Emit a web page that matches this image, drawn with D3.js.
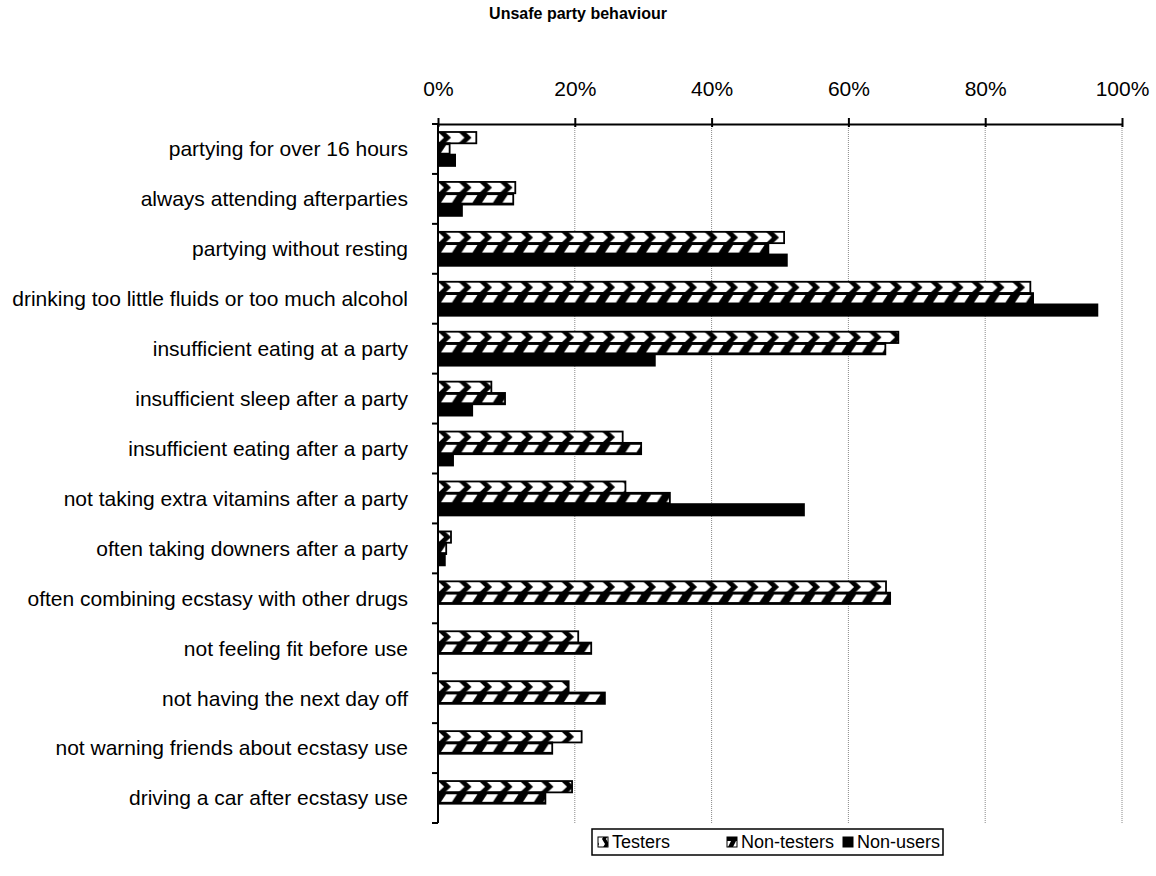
<!DOCTYPE html>
<html>
<head>
<meta charset="utf-8">
<script src="https://cdn.jsdelivr.net/npm/d3@7"></script>
<style>
  body { margin: 0; background: #fff; }
  svg { display: block; }
  text { font-family: "Liberation Sans", Arial, sans-serif; fill: #000; }
</style>
</head>
<body>
<svg id="chart"></svg>
<script>
// chart data (percent of respondents)
const categories = [
  "partying for over 16 hours",
  "always attending afterparties",
  "partying without resting",
  "drinking too little fluids or too much alcohol",
  "insufficient eating at a party",
  "insufficient sleep after a party",
  "insufficient eating after a party",
  "not taking extra vitamins after a party",
  "often taking downers after a party",
  "often combining ecstasy with other drugs",
  "not feeling fit before use",
  "not having the next day off",
  "not warning friends about ecstasy use",
  "driving a car after ecstasy use"
];
const seriesNames = ["Testers", "Non-testers", "Non-users"];
const testers    = [5.6, 11.3, 50.6, 86.6, 67.3, 7.8, 27.0, 27.4, 1.9, 65.5, 20.5, 19.1, 21.0, 19.6];
const nonTesters = [1.7, 11.0, 48.3, 87.0, 65.4, 9.8, 29.7, 33.9, 1.2, 66.1, 22.4, 24.4, 16.7, 15.7];
const nonUsers   = [2.5, 3.5, 51.0, 96.4, 31.7, 5.0, 2.2, 53.5, 1.0, null, null, null, null, null];
const xTicks = [0, 20, 40, 60, 80, 100];
const title = "Unsafe party behaviour";

const W = 1156, H = 876;
const margin = {top: 124, right: 34, bottom: 53, left: 438};

const svg = d3.select("#chart").attr("width", W).attr("height", H);

const x = d3.scaleLinear().domain([0, 100]).range([margin.left, W - margin.right]);
const y0 = d3.scaleBand().domain(categories)
  .range([margin.top, H - margin.bottom])
  .paddingInner(0.32).paddingOuter(0.16);
const y1 = d3.scaleBand().domain(seriesNames).range([0, y0.bandwidth()]);
const bh = y1.bandwidth();

// fill patterns, one tile per bar row
const defs = svg.append("defs");
const per = 20.5;
let p = defs.append("pattern").attr("id", "pat-testers")
  .attr("patternUnits", "userSpaceOnUse").attr("width", per).attr("height", bh);
p.append("rect").attr("width", per).attr("height", bh).attr("fill", "#fff");
p.append("polygon").attr("fill", "#000")
  .attr("points", [[0,0],[7,0],[13,bh/2],[7,bh],[0,bh],[6,bh/2]].join(" "));
p = defs.append("pattern").attr("id", "pat-nontesters")
  .attr("patternUnits", "userSpaceOnUse").attr("width", per).attr("height", bh);
p.append("rect").attr("width", per).attr("height", bh).attr("fill", "#000");
p.append("polygon").attr("fill", "#fff")
  .attr("points", [[3,bh-2],[8,2],[19,2],[14,bh-2]].join(" "));
// small legend tiles
p = defs.append("pattern").attr("id", "leg-testers")
  .attr("patternUnits", "userSpaceOnUse").attr("width", 10).attr("height", 10);
p.append("rect").attr("width", 10).attr("height", 10).attr("fill", "#fff");
p.append("polygon").attr("fill", "#000").attr("points", "0,0 4,0 7,5 4,10 0,10 3,5");
p = defs.append("pattern").attr("id", "leg-nontesters")
  .attr("patternUnits", "userSpaceOnUse").attr("width", 10).attr("height", 10);
p.append("rect").attr("width", 10).attr("height", 10).attr("fill", "#000");
p.append("polygon").attr("fill", "#fff").attr("points", "1,8 4,2 9,2 6,8");

const fills = {"Testers": "url(#pat-testers)", "Non-testers": "url(#pat-nontesters)", "Non-users": "#000"};
const legFills = {"Testers": "url(#leg-testers)", "Non-testers": "url(#leg-nontesters)", "Non-users": "#000"};

// gridlines
svg.append("g").selectAll("line")
  .data(xTicks.slice(1))
  .enter().append("line")
  .attr("x1", d => x(d)).attr("x2", d => x(d))
  .attr("y1", margin.top).attr("y2", H - margin.bottom)
  .attr("stroke", "#888").attr("stroke-width", 1)
  .attr("stroke-dasharray", "1,1");

// bars
const rows = [];
categories.forEach((c, i) => {
  [testers, nonTesters, nonUsers].forEach((arr, j) => {
    if (arr[i] != null) rows.push({cat: c, s: seriesNames[j], v: arr[i]});
  });
});
const bar = svg.append("g").selectAll("g")
  .data(rows)
  .enter().append("g")
  .attr("transform", d => "translate(" + x(0) + "," + (y0(d.cat) + y1(d.s)) + ")");
bar.append("rect")
  .attr("width", d => x(d.v) - x(0))
  .attr("height", bh)
  .attr("fill", d => fills[d.s])
  .attr("stroke", "#000").attr("stroke-width", 1.8);

// top axis
const xAxis = d3.axisTop(x).tickValues(xTicks).tickFormat(d => d + "%")
  .tickSizeInner(6).tickSizeOuter(0).tickPadding(22);
const gx = svg.append("g").attr("transform", "translate(0," + margin.top + ")").call(xAxis);
gx.select(".domain").attr("stroke", "#000").attr("stroke-width", 2);
gx.selectAll(".tick line").attr("stroke", "#000").attr("stroke-width", 2).attr("y2", -6).attr("y1", 3);
gx.selectAll(".tick text").attr("font-size", 21).attr("font-family", "Liberation Sans, Arial, sans-serif");

// left axis with ticks between categories
svg.append("line")
  .attr("x1", margin.left).attr("x2", margin.left)
  .attr("y1", margin.top).attr("y2", H - margin.bottom)
  .attr("stroke", "#000").attr("stroke-width", 2);
const step = y0.step();
svg.append("g").selectAll("line")
  .data(d3.range(categories.length + 1))
  .enter().append("line")
  .attr("x1", margin.left - 6).attr("x2", margin.left)
  .attr("y1", i => margin.top + i * step).attr("y2", i => margin.top + i * step)
  .attr("stroke", "#000").attr("stroke-width", 2);
svg.append("g").selectAll("text")
  .data(categories)
  .enter().append("text")
  .attr("x", margin.left - 30)
  .attr("y", d => y0(d) + y0.bandwidth() / 2)
  .attr("dy", "0.35em")
  .attr("text-anchor", "end")
  .attr("font-size", 21)
  .text(d => d);

// title
svg.append("text")
  .attr("x", 578).attr("y", 19)
  .attr("text-anchor", "middle")
  .attr("font-size", 16).attr("font-weight", "bold")
  .text(title);

// legend
const lg = svg.append("g").attr("transform", "translate(592,829)");
lg.append("rect").attr("width", 351).attr("height", 26)
  .attr("fill", "#fff").attr("stroke", "#000").attr("stroke-width", 1.5);
const legX = [6, 135, 251];
seriesNames.forEach((s, i) => {
  lg.append("rect").attr("x", legX[i]).attr("y", 8).attr("width", 10).attr("height", 10)
    .attr("fill", legFills[s]).attr("stroke", "#000").attr("stroke-width", 1);
  lg.append("text").attr("x", legX[i] + 14).attr("y", 13).attr("dy", "0.35em")
    .attr("font-size", 18).text(s);
});
</script>
</body>
</html>
